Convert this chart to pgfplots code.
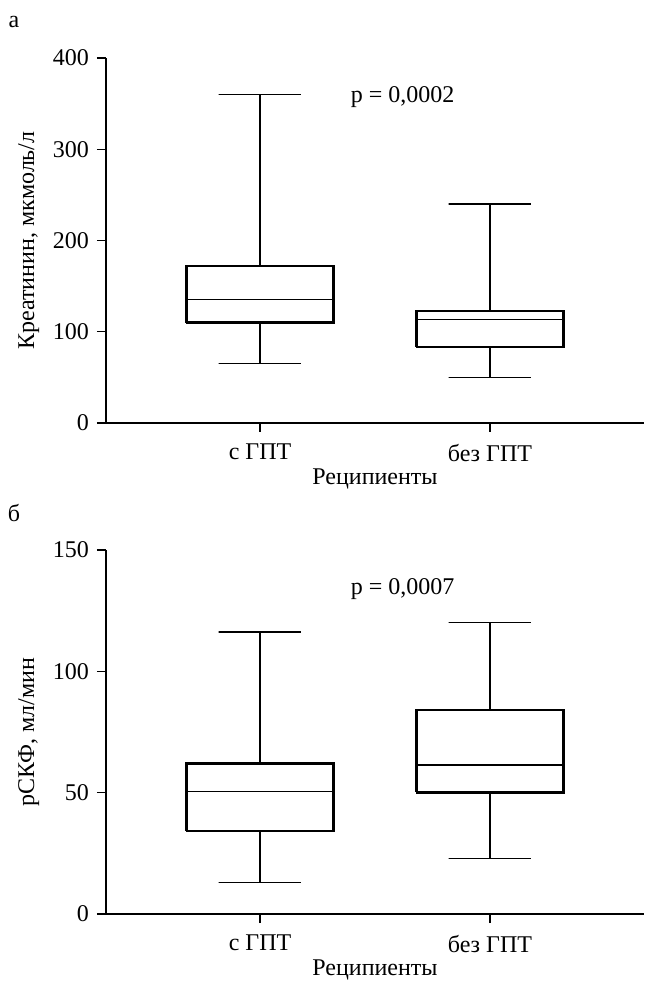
\documentclass[border=0pt]{standalone}
\usepackage{fontspec}
\setmainfont{Liberation Serif}
\usepackage{pgfplots}
\pgfplotsset{compat=1.18}

\pgfplotsset{
  boxax/.style={
    scale only axis, width=269pt, anchor=south west,
    axis lines*=left,
    xmin=0.33, xmax=2.67,
    xtick={1,2}, xticklabels={с ГПТ, без ГПТ},
    tick align=outside, major tick length=4.5pt,
    axis line style={line width=0.7pt},
    tick style={line width=0.7pt, black},
    font=\fontsize{12}{14}\selectfont,
    /pgf/number format/assume math mode=true,
    xticklabel style={yshift=-2.5pt},
    yticklabel style={xshift=-0.5pt},
    xlabel={Реципиенты},
    xlabel style={yshift=3pt},
  },
  box/.style={black, line width=1.2pt, line join=miter, mark=none},
  thin/.style={black, line width=0.6pt, mark=none},
}

\begin{document}
\begin{tikzpicture}
\useasboundingbox (0,0) rectangle (322pt,490.5pt);

\node[font=\fontsize{12}{14}\selectfont] at (7pt,479.5pt) {а};
\node[font=\fontsize{12}{14}\selectfont] at (7pt,234pt) {б};

% а: creatinine
\begin{axis}[boxax, at={(53pt,279pt)}, height=182.5pt,
  ymin=0, ymax=400, ytick={0,100,200,300,400},
  ylabel={Креатинин, мкмоль/л}]
% с ГПТ: 65 / 110 / 135.5 / 172 / 360
\addplot[thin] coordinates {(1,172)(1,360)(0.82,360)(1.18,360)};
\addplot[thin] coordinates {(1,110)(1,65)(0.82,65)(1.18,65)};
\addplot[box] coordinates {(0.68,110)(1.32,110)(1.32,172)(0.68,172)(0.68,110)};
\addplot[thin] coordinates {(0.68,135.5)(1.32,135.5)};
% без ГПТ: 50 / 83.5 / 113 / 122.7 / 240
\addplot[thin] coordinates {(2,122.7)(2,240)(1.82,240)(2.18,240)};
\addplot[thin] coordinates {(2,83.5)(2,50)(1.82,50)(2.18,50)};
\addplot[box] coordinates {(1.68,83.5)(2.32,83.5)(2.32,122.7)(1.68,122.7)(1.68,83.5)};
\addplot[thin] coordinates {(1.68,113)(2.32,113)};
\node at (axis cs:1.62,357) {p = 0,0002};
\end{axis}

% б: eGFR
\begin{axis}[boxax, at={(53pt,33.5pt)}, height=182pt,
  ymin=0, ymax=150, ytick={0,50,100,150},
  ylabel={рСКФ, мл/мин}]
% с ГПТ: 12.9 / 34.3 / 50.4 / 62 / 116.2
\addplot[thin] coordinates {(1,62)(1,116.2)(0.82,116.2)(1.18,116.2)};
\addplot[thin] coordinates {(1,34.3)(1,12.9)(0.82,12.9)(1.18,12.9)};
\addplot[box] coordinates {(0.68,34.3)(1.32,34.3)(1.32,62)(0.68,62)(0.68,34.3)};
\addplot[thin] coordinates {(0.68,50.4)(1.32,50.4)};
% без ГПТ: 22.9 / 50.1 / 61.4 / 84.1 / 120
\addplot[thin] coordinates {(2,84.1)(2,120)(1.82,120)(2.18,120)};
\addplot[thin] coordinates {(2,50.1)(2,22.9)(1.82,22.9)(2.18,22.9)};
\addplot[box] coordinates {(1.68,50.1)(2.32,50.1)(2.32,84.1)(1.68,84.1)(1.68,50.1)};
\addplot[thin] coordinates {(1.68,61.4)(2.32,61.4)};
\node at (axis cs:1.62,134) {p = 0,0007};
\end{axis}
\end{tikzpicture}
\end{document}
